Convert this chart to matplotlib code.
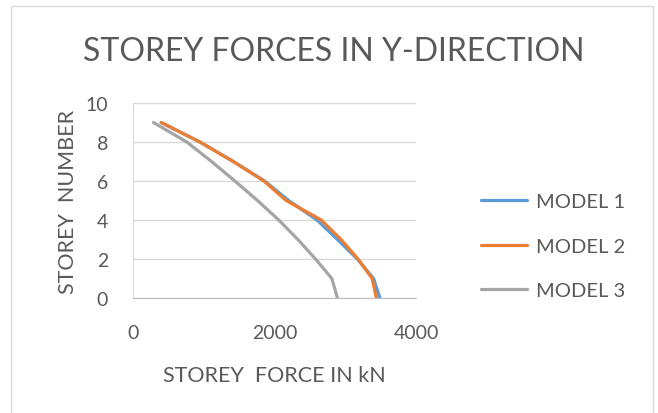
import matplotlib
matplotlib.use('Agg')
import matplotlib.pyplot as plt
from matplotlib.patches import Rectangle

storeys = [9, 8, 7, 6, 5, 4, 3, 2, 1, 0]
model1 = [395, 945, 1420, 1860, 2200, 2600, 2890, 3170, 3400, 3490]
model2 = [400, 945, 1415, 1850, 2165, 2660, 2940, 3180, 3380, 3440]
model3 = [290, 760, 1110, 1440, 1760, 2060, 2330, 2580, 2810, 2890]

series = [('MODEL 1', model1, '#5B9BD5'),
          ('MODEL 2', model2, '#ED7D31'),
          ('MODEL 3', model3, '#A5A5A5')]

TEXT = '#595959'
FONT = ['Lato', 'DejaVu Sans']


def main():
    plt.rcParams['font.family'] = FONT
    fig = plt.figure(figsize=(6.58, 4.14), dpi=100)

    # chart border
    fig.patches.append(Rectangle((11 / 658, -0.1), 642 / 658, 1.1 - 7 / 414,
                                 transform=fig.transFigure, fill=False,
                                 edgecolor='#d9d9d9', linewidth=1.0))

    ax = fig.add_axes([133 / 658, 1 - 299 / 414, 283 / 658, 195 / 414])
    for name, vals, col in series:
        ax.plot(vals, storeys, color=col, linewidth=2.3, label=name,
                solid_capstyle='round', solid_joinstyle='round')

    ax.set_xlim(0, 4000)
    ax.set_ylim(0, 10)
    ax.set_xticks([0, 2000, 4000])
    ax.set_yticks([0, 2, 4, 6, 8, 10])
    ax.grid(axis='y', color='#d9d9d9', linewidth=1.0)
    ax.set_axisbelow(True)
    for s in ['top', 'right']:
        ax.spines[s].set_visible(False)
    ax.spines['bottom'].set_color('#bfbfbf')
    ax.spines['left'].set_color('#d9d9d9')
    ax.tick_params(length=0, labelsize=14, labelcolor=TEXT)
    ax.tick_params(axis='x', pad=19)
    ax.tick_params(axis='y', pad=18)

    ax.set_xlabel('STOREY  FORCE IN kN', fontsize=15.5, color=TEXT, labelpad=17)
    ax.set_ylabel('STOREY  NUMBER', fontsize=15.5, color=TEXT, labelpad=5)

    fig.text(334 / 658, 1 - 52 / 414, 'STOREY FORCES IN Y-DIRECTION',
             ha='center', va='center', fontsize=23, color=TEXT)

    ax.legend(loc='center left', bbox_to_anchor=((481 - 133) / 283, (299 - 247) / 195),
              frameon=False, fontsize=14.5, labelcolor=TEXT, handlelength=2.3,
              handletextpad=0.45, labelspacing=1.38, borderaxespad=0,
              borderpad=0)

    fig.savefig('out.png', dpi=100)


if __name__ == '__main__':
    main()
